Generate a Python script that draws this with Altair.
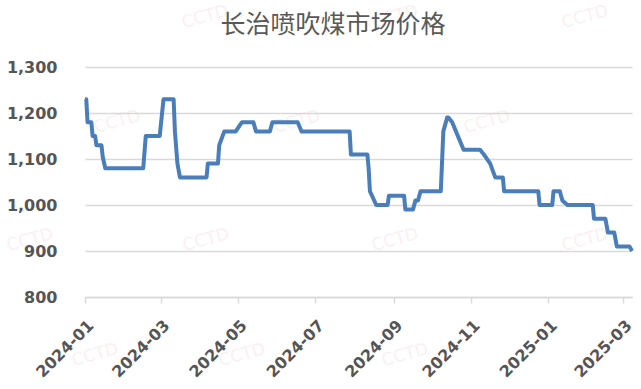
import altair as alt
import pandas as pd

# Daily price change points (元/吨)
dates = [
    "2024-01-01", "2024-01-02", "2024-01-03", "2024-01-06", "2024-01-07", "2024-01-09",
    "2024-01-10", "2024-01-14", "2024-01-15", "2024-01-17", "2024-02-16", "2024-02-18",
    "2024-02-29", "2024-03-03", "2024-03-11", "2024-03-12", "2024-03-14", "2024-03-16",
    "2024-04-06", "2024-04-07", "2024-04-15", "2024-04-16", "2024-04-20", "2024-04-29",
    "2024-05-04", "2024-05-13", "2024-05-15", "2024-05-26", "2024-05-28", "2024-06-17",
    "2024-06-20", "2024-07-28", "2024-07-29", "2024-08-11", "2024-08-12", "2024-08-13",
    "2024-08-18", "2024-08-27", "2024-08-28", "2024-09-09", "2024-09-10", "2024-09-16",
    "2024-09-18", "2024-09-20", "2024-09-22", "2024-10-08", "2024-10-10", "2024-10-13",
    "2024-10-14", "2024-10-17", "2024-10-20", "2024-10-26", "2024-11-08", "2024-11-11",
    "2024-11-16", "2024-11-20", "2024-11-26", "2024-11-27", "2024-12-24", "2024-12-25",
    "2025-01-04", "2025-01-05", "2025-01-10", "2025-01-12", "2025-01-16", "2025-02-05",
    "2025-02-06", "2025-02-15", "2025-02-17", "2025-02-22", "2025-02-24", "2025-03-06",
    "2025-03-08",
]
prices = [
    1230, 1230, 1180, 1180, 1150, 1150,
    1130, 1130, 1105, 1080, 1080, 1150,
    1150, 1230, 1230, 1160, 1090, 1060,
    1060, 1090, 1090, 1130, 1160, 1160,
    1180, 1180, 1160, 1160, 1180, 1180,
    1160, 1160, 1110, 1110, 1080, 1030,
    1000, 1000, 1020, 1020, 990, 990,
    1010, 1010, 1030, 1030, 1160, 1190,
    1190, 1180, 1160, 1120, 1120, 1110,
    1090, 1060, 1060, 1030, 1030, 1000,
    1000, 1030, 1030, 1010, 1000, 1000,
    970, 970, 940, 940, 910, 910,
    900,
]

title_text = "长治喷吹煤市场价格"
y_ticks = [800, 900, 1000, 1100, 1200, 1300]
x_tick_months = [(2024, 1), (2024, 3), (2024, 5), (2024, 7), (2024, 9), (2024, 11),
                 (2025, 1), (2025, 3)]

df = pd.DataFrame({"date": dates, "price": prices})

W, H = 547, 230
GRID = "#d9d9d9"
LABEL = "#555555"

x_axis = alt.Axis(
    values=[alt.DateTime(year=y, month=m, date=1) for y, m in x_tick_months],
    format="%Y-%m",
    labelAngle=-45,
    labelFont="DejaVu Sans",
    labelFontSize=16,
    labelFontWeight="bold",
    labelColor=LABEL,
    labelPadding=14,
    grid=False,
    domainColor=GRID,
    domainWidth=1.5,
    tickColor=GRID,
    tickWidth=1.5,
    tickSize=6,
    title=None,
)
y_axis = alt.Axis(
    values=y_ticks,
    format=",d",
    labelFont="DejaVu Sans",
    labelFontSize=16,
    labelFontWeight="bold",
    labelColor=LABEL,
    labelPadding=28,
    grid=True,
    gridColor=GRID,
    gridWidth=1.5,
    domain=False,
    ticks=False,
    title=None,
)

line = alt.Chart(df).mark_line(color="#4a7ebb", strokeWidth=4, strokeJoin="round").encode(
    x=alt.X("date:T", axis=x_axis,
            scale=alt.Scale(domain=[alt.DateTime(year=2024, month=1, date=1),
                                    alt.DateTime(year=2025, month=3, date=8)])),
    y=alt.Y("price:Q", axis=y_axis, scale=alt.Scale(domain=[800, 1300], nice=False, zero=False)),
)

title = alt.Chart(pd.DataFrame({"t": [title_text]})).mark_text(
    font="Noto Sans CJK SC", fontSize=25, color="#595959", baseline="middle", align="center"
).encode(text="t:N", x=alt.value(248), y=alt.value(-42))

# faint "CCTD" watermark tiles
wm_x = [120, 310, 500, 32, 212, 402, -55, 121, 310, 500, 10, 157, 320]
wm_y = [-50, -50, -50, 55, 55, 55, 173, 173, 173, 173, 288, 288, 288]
wm = alt.Chart(pd.DataFrame({"x": wm_x, "y": wm_y, "t": ["CCTD"] * len(wm_x)})).mark_text(
    font="DejaVu Sans", fontSize=17, color="#f3c6c6", opacity=0.25, angle=345
).encode(
    text="t:N",
    x=alt.X("x:Q", scale=alt.Scale(domain=[0, W], range=[0, W]), axis=None),
    y=alt.Y("y:Q", scale=alt.Scale(domain=[0, H], range=[0, H]), axis=None),
)

chart = alt.layer(wm, line, title).resolve_scale(x="independent", y="independent").properties(
    width=W,
    height=H,
    padding={"left": 85, "top": 67, "right": 9, "bottom": 92},
    autosize=alt.AutoSizeParams(type="none"),
    background="white",
).configure_view(stroke=None)

chart.save("out.html", embed_options={"renderer": "svg", "actions": False})
